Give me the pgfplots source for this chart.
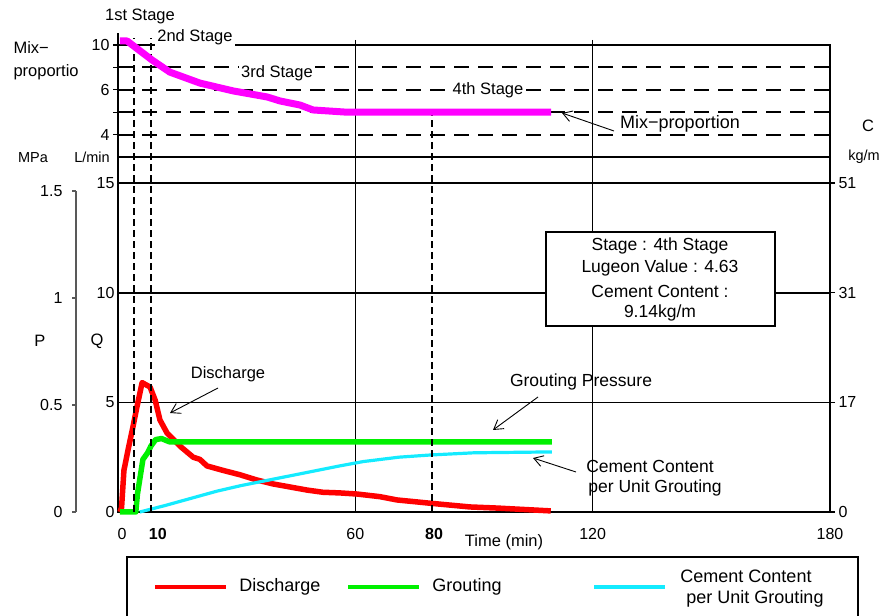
\documentclass[border=0pt]{standalone}
\usepackage{fontspec}
\setmainfont{Liberation Sans}
\usepackage{pgfplots}
\pgfplotsset{compat=1.18}
\usetikzlibrary{arrows.meta}

\definecolor{dischc}{RGB}{255,0,0}
\definecolor{groutc}{RGB}{0,240,0}
\definecolor{cemc}{RGB}{20,235,255}
\definecolor{mixc}{RGB}{255,0,255}

\tikzset{
  note/.style={font=\fontsize{16.5}{19}\selectfont},
  boxtxt/.style={font=\fontsize{17.5}{20}\selectfont},
  ann/.style={line width=0.9pt, -{Straight Barb[length=9pt,width=11pt]}},
}

\begin{document}
\begin{tikzpicture}
\useasboundingbox (0pt,0pt) rectangle (885pt,615pt);

% ---------------- main panel: discharge / grouting / cement content ----------
\begin{axis}[
  at={(118pt,103pt)}, anchor=south west,
  scale only axis, width=712pt, height=355pt,
  xmin=0, xmax=180, ymin=0, ymax=16.19,
  axis line style={line width=1.8pt},
  xtick={0,60,120,180}, xticklabels={\hspace*{8pt}0,60,120,180},
  extra x ticks={8.3,79.4},
  extra x tick labels={\hspace*{14pt}\textbf{10},\hspace*{4pt}\textbf{80}},
  extra x tick style={grid=none},
  ytick={0,5,10,15}, yticklabels={0,5,10,15},
  xtick pos=bottom, ytick pos=left,
  tick align=inside, major tick length=5pt,
  tick style={black, line width=1.3pt},
  grid=major, major grid style={black, line width=1.6pt},
  ticklabel style={font=\fontsize{16}{18}\selectfont},
  xticklabel style={yshift=-13pt},
  clip=false,
]
% Discharge (L/min)
\addplot[dischc, line width=5.5pt, line join=round] coordinates {
  (0.5,0) (0.9,0.2) (1.5,1.9) (2.5,2.8) (3.8,3.9) (4.8,4.8) (6.1,5.9)
  (8.1,5.7) (9.4,5.1) (10.6,4.2) (12.4,3.6) (15.7,3.0) (19,2.5)
  (20.7,2.4) (22.5,2.1) (26.5,1.9) (30.8,1.7) (35.1,1.46) (39.2,1.28)
  (43.5,1.14) (47.8,1.0) (51.8,0.9) (56.1,0.87) (60.4,0.82) (66.2,0.7)
  (70.5,0.55) (78.9,0.4) (89,0.23) (95.8,0.18) (109.4,0.05)
};
% Grouting (L/min)
\addplot[groutc, line width=5.5pt, line join=round] coordinates {
  (0.5,0) (4.5,0) (4.9,0.8) (5.6,1.6) (6.3,2.4) (7.5,2.7) (8.3,3.0)
  (9.5,3.3) (11,3.35) (13,3.2) (109.7,3.2)
};
% Cement content per unit grouting
\addplot[cemc, line width=3.2pt, line join=round] coordinates {
  (5.5,0) (12,0.3) (18,0.6) (25,0.95) (31,1.2) (43.5,1.65) (56,2.1)
  (62,2.3) (71,2.5) (79,2.6) (90,2.7) (109.7,2.74)
};
% stage boundaries
\draw[black, line width=1.6pt, dash pattern=on 7pt off 4pt]
  (axis cs:4,0) -- (axis cs:4,21.6);
\draw[black, line width=1.6pt, dash pattern=on 7pt off 4pt]
  (axis cs:8.3,0) -- (axis cs:8.3,21.6);
\draw[black, line width=1.6pt, dash pattern=on 7pt off 4pt]
  (axis cs:79.4,0) -- (axis cs:79.4,18.2);
\end{axis}

% ---------------- right-hand scale C (kg/m) ----------------------------------
\begin{axis}[
  at={(118pt,103pt)}, anchor=south west,
  scale only axis, width=712pt, height=355pt,
  xmin=0, xmax=180, ymin=0, ymax=16.19,
  axis y line*=right, axis x line=none,
  axis line style={-, line width=1.8pt},
  ytick={0,5,10,15}, yticklabels={0,17,31,51},
  tick align=outside, major tick length=5pt,
  tick style={black, line width=1.3pt},
  ticklabel style={font=\fontsize{16}{18}\selectfont},
]
\end{axis}

% ---------------- pressure scale P (MPa) -------------------------------------
\begin{axis}[
  at={(76pt,103pt)}, anchor=south west,
  scale only axis, width=1pt, height=321pt,
  xmin=0, xmax=1, ymin=0, ymax=1.5,
  axis y line=left, axis x line=none,
  axis line style={-, line width=1.5pt, black!65},
  ytick={0,0.5,1,1.5}, yticklabels={0,0.5,1,1.5},
  tick align=outside, major tick length=4pt,
  tick style={black!65, line width=1.3pt},
  ticklabel style={font=\fontsize{16}{18}\selectfont},
  yticklabel style={xshift=-6pt},
]
\end{axis}

% ---------------- upper panel: mix-proportion --------------------------------
\begin{axis}[
  at={(118pt,458pt)}, anchor=south west,
  scale only axis, width=712pt, height=112pt,
  xmin=0, xmax=180, ymin=0, ymax=5,
  axis line style={line width=1.8pt},
  xtick={60,120}, xticklabels={},
  xtick pos=top, ytick pos=left,
  ytick={1,2,3,4,5}, yticklabels={4,,6,,10},
  tick align=outside, major tick length=5pt,
  tick style={black, line width=1.3pt},
  xmajorgrids, ymajorgrids,
  major x grid style={black, line width=1.6pt},
  major y grid style={black, line width=1.9pt, dash pattern=on 15pt off 9pt},
  ticklabel style={font=\fontsize{16}{18}\selectfont},
  clip=false,
]
\addplot[mixc, line width=7pt, line join=round] coordinates {
  (0.5,5.18) (2.3,5.18) (4.3,4.91) (8.6,4.33) (13.1,3.79) (20.7,3.30)
  (29.1,2.95) (37.7,2.68) (41,2.5) (46,2.32) (49.3,2.10) (57.9,2.0)
  (109.5,2.0)
};
\draw[line width=1.8pt] (axis cs:0,5) -- (axis cs:0,5.55);
\end{axis}

% ---------------- texts and call-outs ----------------------------------------
\node[note] at (140pt,599pt) {1st Stage};
\node[note, fill=white, inner sep=2pt] at (195pt,578pt) {2nd Stage};
\node[note, fill=white, inner sep=2pt] at (277pt,542pt) {3rd Stage};
\node[note, fill=white, inner sep=2pt] at (488pt,525pt) {4th Stage};

\node[note, anchor=west] at (10pt,567pt) {Mix−};
\node[note, anchor=west] at (10pt,543pt) {proportio};
\node[font=\fontsize{14.5}{16}\selectfont] at (33pt,457pt) {MPa};
\node[font=\fontsize{14.5}{16}\selectfont] at (92pt,458pt) {L/min};
\node[note] at (868pt,489pt) {C};
\node[font=\fontsize{14.5}{16}\selectfont] at (864pt,458pt) {kg/m};
\node[note] at (40pt,274pt) {P};
\node[note] at (97pt,274pt) {Q};
\node[font=\fontsize{16.5}{19}\selectfont] at (504pt,73pt) {Time (min)};

% info box
\draw[line width=1.2pt, fill=white] (546pt,289pt) rectangle (775pt,383pt);
\node[boxtxt] at (660pt,369pt) {Stage : 4th Stage};
\node[boxtxt] at (660pt,347pt) {Lugeon Value : 4.63};
\node[boxtxt] at (660pt,324pt) {Cement Content :};
\node[boxtxt] at (660pt,302pt) {9.14kg/m};

% call-outs
\node[note] at (228pt,241pt) {Discharge};
\draw[ann] (218pt,227pt) -- (170pt,202pt);
\node[font=\fontsize{17.5}{20}\selectfont] at (581pt,233pt) {Grouting Pressure};
\draw[ann] (538pt,218pt) -- (493pt,185pt);
\node[font=\fontsize{17.5}{20}\selectfont] at (650pt,149pt) {Cement Content};
\node[font=\fontsize{17.5}{20}\selectfont] at (655pt,127pt) {per Unit Grouting};
\draw[ann] (576pt,143pt) -- (533pt,157pt);
\node[font=\fontsize{18}{20}\selectfont, fill=white, inner sep=1pt] at (680pt,491pt) {Mix−proportion};
\draw[ann] (614pt,484pt) -- (562pt,502pt);

% legend
\draw[line width=1.2pt] (127pt,58pt) rectangle (858pt,-10pt);
\draw[dischc, line width=4.5pt] (155pt,28pt) -- (226pt,28pt);
\node[font=\fontsize{18}{20}\selectfont] at (280pt,28pt) {Discharge};
\draw[groutc, line width=4.5pt] (348pt,28pt) -- (419pt,28pt);
\node[font=\fontsize{18}{20}\selectfont] at (467pt,28pt) {Grouting};
\draw[cemc, line width=4.5pt] (594pt,28pt) -- (665pt,28pt);
\node[font=\fontsize{18}{20}\selectfont] at (746pt,39pt) {Cement Content};
\node[font=\fontsize{18}{20}\selectfont] at (755pt,16pt) {per Unit Grouting};
\end{tikzpicture}
\end{document}
